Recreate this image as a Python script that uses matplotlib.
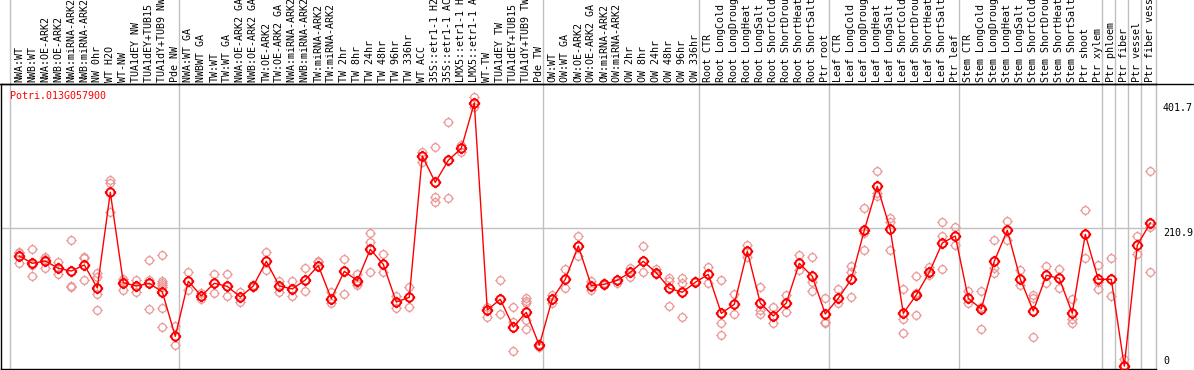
import matplotlib
matplotlib.use('Agg')
import matplotlib.pyplot as plt
from matplotlib.path import Path
import matplotlib.transforms as mtransforms

# sample names (88 samples)
samples = [
    'NWA:WT', 'NWB:WT', 'NWA:OE-ARK2', 'NWB:OE-ARK2', 'NWA:miRNA-ARK2', 'NWB:miRNA-ARK2',
    'NW 0hr', 'WT H2O', 'WT-NW', 'TUA1dEY NW', 'TUA1dEY+TUB15 NW', 'TUA1dY+TUB9 NW', 'Pde NW',
    'NWA:WT GA', 'NWBWT GA', 'TW:WT', 'TW:WT GA', 'NWA:OE-ARK2 GA', 'NWB:OE-ARK2 GA',
    'TW:OE-ARK2', 'TW:OE-ARK2 GA', 'NWA:miRNA-ARK2 GA', 'NWB:miRNA-ARK2 GA', 'TW:miRNA-ARK2',
    'TW:miRNA-ARK2 GA', 'TW 2hr', 'TW 8hr', 'TW 24hr', 'TW 48hr', 'TW 96hr', 'TW 336hr',
    'WT ACC', '35S::etr1-1 H2O', '35S::etr1-1 ACC', 'LMX5::etr1-1 H2O', 'LMX5::etr1-1 ACC',
    'WT-TW', 'TUA1dEY TW', 'TUA1dEY+TUB15 TW', 'TUA1dY+TUB9 TW', 'Pde TW',
    'OW:WT', 'OW:WT GA', 'OW:OE-ARK2', 'OW:OE-ARK2 GA', 'OW:miRNA-ARK2', 'OW:miRNA-ARK2 GA',
    'OW 2hr', 'OW 8hr', 'OW 24hr', 'OW 48hr', 'OW 96hr', 'OW 336hr',
    'Root CTR', 'Root LongCold', 'Root LongDrought', 'Root LongHeat', 'Root LongSalt',
    'Root ShortCold', 'Root ShortDrought', 'Root ShortHeat', 'Root ShortSalt', 'Ptr root',
    'Leaf CTR', 'Leaf LongCold', 'Leaf LongDrought', 'Leaf LongHeat', 'Leaf LongSalt',
    'Leaf ShortCold', 'Leaf ShortDrought', 'Leaf ShortHeat', 'Leaf ShortSalt', 'Ptr leaf',
    'Stem CTR', 'Stem LongCold', 'Stem LongDrought', 'Stem LongHeat', 'Stem LongSalt',
    'Stem ShortCold', 'Stem ShortDrought', 'Stem ShortHeat', 'Stem ShortSalt', 'Ptr shoot',
    'Ptr xylem', 'Ptr phloem', 'Ptr fiber', 'Ptr vessel', 'Ptr fiber vessel',
]

# first sample of each group
group_starts = [0, 13, 41, 53, 63, 73, 84, 85, 86, 87]

means = [
    168.2, 157.0, 160.6, 149.4, 145.3, 154.5, 119.4, 265.4, 127.5, 122.4, 126.5, 113.3, 45.6,
    129.6, 107.2, 126.5, 121.9, 105.6, 122.4, 160.1, 122.4, 117.9, 131.6, 153.5, 103.1, 144.8,
    130.6, 178.4, 155.5, 98.0, 105.1, 320.8, 280.6, 314.2, 332.5, 401.7, 85.8, 102.1, 59.9,
    82.2, 31.9,
    102.6, 132.6, 183.5, 123.0, 125.0, 131.1, 143.3, 160.1, 142.8, 118.9, 112.8, 128.0,
    140.2, 80.7, 94.5, 175.3, 96.5, 76.6, 96.5, 157.0, 137.2, 79.7,
    103.6, 132.6, 207.4, 274.5, 208.9, 80.7, 108.7, 143.3, 188.0, 198.7,
    103.6, 87.3, 160.1, 207.4, 133.1, 84.3, 138.7, 134.1, 80.7, 201.3, 132.6,
    132.6, 0.0, 184.5, 218.6,
]

reps = [
    [174.3, 172.3, 158.0], [178.9, 155.0, 137.2], [167.2, 163.6, 150.4], [159.1, 149.4, 140.2],
    [192.6, 122.4, 120.9], [167.2, 164.6, 131.1], [142.8, 135.6, 109.7, 85.8],
    [284.2, 279.1, 235.9], [132.6, 130.6, 116.3], [131.6, 122.4, 113.8], [161.6, 131.6, 87.3],
    [169.7, 130.6, 127.5, 124.5, 121.4, 88.4, 59.4], [61.4, 31.9],
    [143.8, 116.3], [111.2, 102.1], [140.7, 111.2], [140.2, 107.2], [113.3, 98.0],
    [124.0, 121.4], [173.8, 146.8], [130.6, 113.8], [130.0, 106.7], [149.4, 114.8],
    [161.1, 159.6], [113.8, 95.9], [163.6, 110.2], [140.2, 126.5, 124.0],
    [202.8, 189.1, 143.8], [171.3, 144.3], [107.2, 88.4], [120.9, 89.9], [327.4, 312.2],
    [334.1, 258.8, 251.1], [372.2, 256.2], [337.6, 327.4], [410.4, 396.1], [90.9, 74.6],
    [131.1, 79.7], [89.9, 68.0, 23.2], [103.6, 100.0, 95.9, 70.5, 56.8], [33.4, 29.8],
    [108.7, 95.9], [148.4, 118.9], [198.7, 168.7], [130.0, 116.3], [126.5, 124.0], [127.5],
    [150.4, 136.7], [183.5, 144.3], [148.4, 140.2], [135.2, 130.6, 91.9],
    [135.2, 127.5, 74.6], [130.0],
    [151.9, 127.5], [131.1, 65.5, 47.2], [110.2, 79.7], [185.0, 167.2],
    [121.4, 85.8, 79.7], [90.9, 65.5], [108.2, 82.2], [169.7, 146.3],
    [167.2, 129.1, 114.8], [103.6, 67.0, 65.5],
    [117.3, 95.9], [153.5, 144.3, 105.1], [241.0, 202.8, 176.9], [297.4, 264.9, 259.8],
    [226.2, 220.6, 176.9], [117.3, 72.6, 50.2], [137.7, 112.3, 77.7], [151.9, 139.2],
    [219.6, 198.7, 147.9], [213.0, 185.0],
    [115.3, 95.9], [114.8, 90.9, 56.3], [192.1, 149.4, 141.7], [221.6, 192.6],
    [146.8, 124.0], [108.7, 103.6, 44.1], [152.4, 126.5], [148.4, 118.9],
    [102.1, 71.5, 66.5], [237.9, 164.6], [154.5, 129.1, 117.3],
    [165.6, 107.2], [10.5, 1.9], [198.7, 171.3], [297.9, 213.0, 143.3],
]

ytick_vals = [401.7, 210.9, 0]
gene = 'Potri.013G057900'

# circle with four little ticks
circ = Path.unit_circle()
ticks = Path([(0, 1.0), (0, 1.4), (0, -1.0), (0, -1.4), (1.0, 0), (1.4, 0), (-1.0, 0), (-1.4, 0)],
             [Path.MOVETO, Path.LINETO] * 4)
tick_circle = Path.make_compound_path(circ, ticks)

mono = 'DejaVu Sans Mono'
fs = 7.2

fig = plt.figure(figsize=(11.94, 3.70), dpi=100)
ax = fig.add_axes([1 / 1194, 1 / 370, 1155 / 1194, 285 / 370])
ax.set_xlim(-1.408, 87.44)
ax.set_ylim(-4.27, 430.7)
ax.set_xticks([])
ax.set_yticks([])
for s in ['left', 'bottom', 'top']:
    ax.spines[s].set_color('black')
    ax.spines[s].set_linewidth(1)
ax.spines['right'].set_color('#c0c0c0')

x = list(range(len(samples)))

# group separators, running through the label area too
trans = mtransforms.blended_transform_factory(ax.transData, ax.transAxes)
for g in group_starts:
    ax.plot([g - 0.7, g - 0.7], [0, 1.31], color='#c0c0c0', lw=1, transform=trans, clip_on=False, zorder=1)
ax.plot([87.44, 87.44], [0, 1.31], color='#c0c0c0', lw=1, transform=trans, clip_on=False, zorder=1)
ax.axhline(ytick_vals[1], color='#c0c0c0', lw=1, zorder=1)

# top line across the whole width
fig.add_artist(plt.Line2D([0, 1], [286 / 370, 286 / 370], color='black', lw=1))

# replicates
for i, r in enumerate(reps):
    ax.plot([i] * len(r), r, linestyle='none', marker=tick_circle, markersize=7.6,
            markerfacecolor='none', markeredgecolor='#eb9696', markeredgewidth=0.9, zorder=2)

# mean line
ax.plot(x, means, color='red', lw=1, zorder=3)
ax.plot(x, means, linestyle='none', marker=tick_circle, markersize=8.2,
        markerfacecolor='none', markeredgecolor='red', markeredgewidth=1.4, zorder=4)

# sample labels above the plot
for i, name in enumerate(samples):
    ax.text(i, 1.008, name, rotation=90, ha='center', va='bottom', family=mono, fontsize=fs,
            transform=trans, clip_on=False)

# gene name
ax.text(0.0078, 0.975, gene, color='red', family=mono, fontsize=fs, ha='left', va='top',
        transform=ax.transAxes)

# value labels on the right
ytrans = mtransforms.blended_transform_factory(ax.transAxes, ax.transData)
for v in ytick_vals:
    ax.text(1.006, v, f'{v:g}', family=mono, fontsize=fs, ha='left',
            va='top' if v > 0 else 'bottom', transform=ytrans, clip_on=False)

plt.savefig('out.png', dpi=100)
